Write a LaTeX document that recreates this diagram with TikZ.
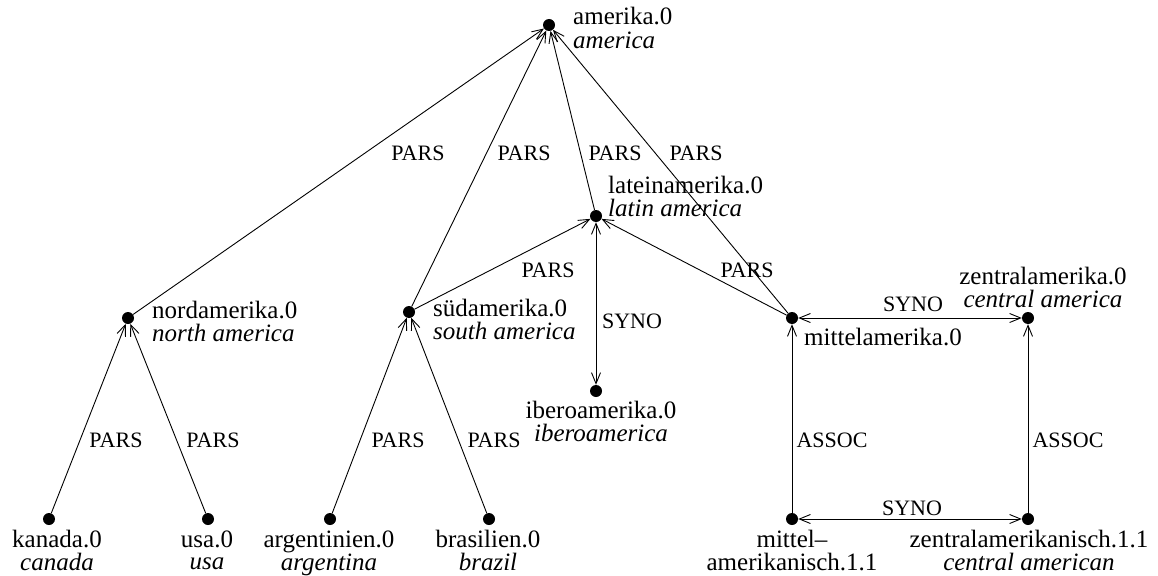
\documentclass[tikz,border=0pt]{standalone}
\usepackage{fontspec}
\setmainfont{Liberation Serif}
\usetikzlibrary{arrows.meta}
\newcommand\mylines[3]{\begin{tabular}[t]{@{}#1@{}}#2\\#3\end{tabular}}
\begin{document}
\begin{tikzpicture}[x=1pt,y=-1pt,
  dot/.style={circle,fill=black,inner sep=0pt,minimum size=12pt},
  lab/.style={inner sep=0pt,font=\fontsize{25}{22}\selectfont},
  elab/.style={inner sep=0pt,font=\fontsize{22}{22}\selectfont},
  tip/.tip={Straight Barb[length=11pt,width=9pt]},
  rel/.style={line width=0.9pt,-tip},
  rel2/.style={line width=0.9pt,tip-tip}]
\useasboundingbox (0,0) rectangle (1158,575);
% dots
\node[dot] (amer) at (549,25) {};
\node[dot] (latein) at (596,216) {};
\node[dot] (nord) at (128,318) {};
\node[dot] (sued) at (409,312) {};
\node[dot] (ibero) at (596,391) {};
\node[dot] (mittel) at (792,318) {};
\node[dot] (zentral) at (1028,318) {};
\node[dot] (kanada) at (49,519) {};
\node[dot] (usa) at (208,519) {};
\node[dot] (arg) at (330,519) {};
\node[dot] (bras) at (489,519) {};
\node[dot] (mam) at (792,519) {};
\node[dot] (zam) at (1028,519) {};
% node labels
\node[lab,anchor=base west] (amerL) at (573,25) {\mylines{l}{amerika.0}{\textit{america}}};
\node[lab,anchor=base west] (lateinL) at (608,193) {\mylines{l}{lateinamerika.0}{\textit{latin america}}};
\node[lab,anchor=base west] (nordL) at (152,318) {\mylines{l}{nordamerika.0}{\textit{north america}}};
\node[lab,anchor=base west] (suedL) at (433,316) {\mylines{l}{südamerika.0}{\textit{south america}}};
\node[lab,anchor=base west] (mittelL) at (804,345) {mittelamerika.0};
\node[lab,anchor=base] (zentralL) at (1043,284) {\mylines{c}{zentralamerika.0}{\textit{central america}}};
\node[lab,anchor=base] (iberoL) at (601,418) {\mylines{c}{iberoamerika.0}{\textit{iberoamerica}}};
\node[lab,anchor=base] (kanadaL) at (57,547) {\mylines{c}{kanada.0}{\textit{canada}}};
\node[lab,anchor=base] (usaL) at (207,547) {\mylines{c}{usa.0}{\textit{usa}}};
\node[lab,anchor=base] (argL) at (329,547) {\mylines{c}{argentinien.0}{\textit{argentina}}};
\node[lab,anchor=base] (brasL) at (488,547) {\mylines{c}{brasilien.0}{\textit{brazil}}};
\node[lab,anchor=base] (mamL) at (792,547) {\mylines{c}{mittel–}{amerikanisch.1.1}};
\node[lab,anchor=base] (zamL) at (1029,547) {\mylines{c}{zentralamerikanisch.1.1}{\textit{central american}}};
% connectors
\draw[rel] (nord) -- (amer);
\draw[rel] (sued) -- (amer);
\draw[rel] (latein) -- (amer);
\draw[rel] (mittel) -- (amer);
\draw[rel] (sued) -- (latein);
\draw[rel] (mittel) -- (latein);
\draw[rel2] (latein) -- (ibero);
\draw[rel2] (mittel) -- (zentral);
\draw[rel] (mam) -- (mittel);
\draw[rel] (zam) -- (zentral);
\draw[rel2] (mam) -- (zam);
\draw[rel] (kanada) -- (nord);
\draw[rel] (usa) -- (nord);
\draw[rel] (arg) -- (sued);
\draw[rel] (bras) -- (sued);
% connector labels
\node[elab] (e1) at (418,153) {PARS};
\node[elab] (e2) at (524,153) {PARS};
\node[elab] (e3) at (615,153) {PARS};
\node[elab] (e4) at (696,153) {PARS};
\node[elab] (e5) at (548,270) {PARS};
\node[elab] (e6) at (747,270) {PARS};
\node[elab] (e7) at (632,321) {SYNO};
\node[elab] (e8) at (913,304) {SYNO};
\node[elab] (e9) at (912,508) {SYNO};
\node[elab] (e10) at (832,440) {ASSOC};
\node[elab] (e11) at (1068,440) {ASSOC};
\node[elab] (e12) at (116,440) {PARS};
\node[elab] (e13) at (213,440) {PARS};
\node[elab] (e14) at (398,440) {PARS};
\node[elab] (e15) at (494,440) {PARS};
\end{tikzpicture}
\end{document}
